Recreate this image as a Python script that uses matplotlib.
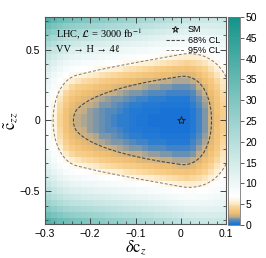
import numpy as np
import matplotlib
matplotlib.use("Agg")
import matplotlib.pyplot as plt
from matplotlib.colors import LinearSegmentedColormap
from matplotlib.lines import Line2D
from matplotlib.ticker import MultipleLocator, FuncFormatter

plt.rcParams["font.family"] = ["Liberation Sans", "DejaVu Sans"]
plt.rcParams["mathtext.fontset"] = "stix"

# ---- data / model ----
x_range = [-0.3, 0.1]          # delta c_z
y_range = [-0.73, 0.73]        # c~_zz
n_cells = [30, 34]             # heat-map cells (x, y)
# chi^2 = A(x) + s(x) * (qy2*y^2 + qy4*y^4)
a_left = [40.0, 1040.0, 0.23]  # A(x<0) = a0 x^2 + a1 * max(0, -x - a2)^2
a_right = [600.0, -1460.0]     # A(x>0) = a0 x^2 + a1 x^3
s_coef = [-3.2, -3.0]          # s(x) = 1 + k1 x + k2 x^2
q_coef = [21.0, 30.0]
cl_levels = [2.30, 5.99]
cl_labels = ["68% CL", "95% CL"]
sm_point = [0.0, 0.0]
cbar_ticks = list(range(0, 51, 5))
vmax = 50

def chi2(x, y):
    s = 1 + s_coef[0] * x + s_coef[1] * x**2
    q = q_coef[0] * y**2 + q_coef[1] * y**4
    a = np.where(x < 0,
                 a_left[0] * x**2 + a_left[1] * np.clip(-x - a_left[2], 0, None)**2,
                 a_right[0] * x**2 + a_right[1] * x**3)
    return a + s * q

# colormap
stops = [
    (0.0, (25, 115, 215)),
    (0.5, (38, 123, 210)),
    (1.2, (105, 143, 178)),
    (2.0, (200, 175, 132)),
    (2.8, (240, 190, 112)),
    (4.0, (248, 208, 142)),
    (5.3, (253, 238, 208)),
    (6.8, (255, 255, 255)),
    (50.0, (18, 148, 138)),
]
cmap = LinearSegmentedColormap.from_list(
    "cl", [(v / vmax, tuple(c / 255 for c in col)) for v, col in stops])

fig = plt.figure(figsize=(2.66, 2.58), dpi=100)
ax = fig.add_axes([0.169, 0.132, 0.681, 0.802])
cax = fig.add_axes([0.857, 0.128, 0.045, 0.806])

xe = np.linspace(x_range[0], x_range[1], n_cells[0] + 1)
ye = np.linspace(y_range[0], y_range[1], n_cells[1] + 1)
xc = 0.5 * (xe[1:] + xe[:-1])
yc = 0.5 * (ye[1:] + ye[:-1])
XC, YC = np.meshgrid(xc, yc)
pm = ax.pcolormesh(xe, ye, chi2(XC, YC), cmap=cmap, vmin=0, vmax=vmax)

xf = np.linspace(x_range[0], x_range[1], 400)
yf = np.linspace(y_range[0], y_range[1], 400)
XF, YF = np.meshgrid(xf, yf)
ZF = chi2(XF, YF)
ax.contour(XF, YF, ZF, levels=[cl_levels[0]], colors=["#4a4a4a"],
           linewidths=0.8, linestyles=[(0, (3, 1.5))])
ax.contour(XF, YF, ZF, levels=[cl_levels[1]], colors=["#7a7a7a"],
           linewidths=0.7, linestyles=[(0, (3, 2))])
ax.plot([sm_point[0]], [sm_point[1]], marker="*", ms=6, mfc="none",
        mec="#222222", mew=0.7, ls="none")

ax.set_xlim(x_range)
ax.set_ylim(y_range)
ax.xaxis.set_major_locator(MultipleLocator(0.1))
ax.xaxis.set_minor_locator(MultipleLocator(0.02))
ax.yaxis.set_major_locator(MultipleLocator(0.5))
ax.yaxis.set_minor_locator(MultipleLocator(0.1))
ax.tick_params(which="both", direction="in", top=True, right=True,
               labelsize=7.5, color="#444444")
ax.tick_params(which="major", length=4, width=0.7)
ax.tick_params(which="minor", length=2, width=0.6)
fmt = FuncFormatter(lambda v, p: ("%g" % round(v, 2)).replace("-", "\u2212"))
ax.xaxis.set_major_formatter(fmt)
ax.yaxis.set_major_formatter(fmt)
for sp in ax.spines.values():
    sp.set_color("#555555")
    sp.set_linewidth(0.8)

ax.set_xlabel(r"$\delta\mathrm{c}_z$", fontsize=12, labelpad=0)
ax.set_ylabel(r"$\tilde{\mathrm{c}}_{zz}$", fontsize=12, labelpad=0)

serif = ["Liberation Serif", "DejaVu Serif"]
ax.text(0.06, 0.95, r"LHC, $\mathcal{L}$ = 3000 fb$^{-1}$", transform=ax.transAxes,
        fontsize=7.5, family=serif, va="top")
ax.text(0.06, 0.865, "VV \u2192 H \u2192 4\u2113", transform=ax.transAxes,
        fontsize=7.5, family=serif, va="top")

handles = [
    Line2D([], [], marker="*", ms=5, mfc="none", mec="#222222", mew=0.7, ls="none"),
    Line2D([], [], color="#4a4a4a", lw=0.8, ls=(0, (3, 1.5))),
    Line2D([], [], color="#7a7a7a", lw=0.7, ls=(0, (3, 2))),
]
ax.legend(handles, ["SM"] + cl_labels, loc="upper right", fontsize=6.5,
          frameon=False, handlelength=2.0, handletextpad=0.4,
          labelspacing=0.15, borderaxespad=0.3, bbox_to_anchor=(1.0, 0.99))

cb = fig.colorbar(pm, cax=cax, ticks=cbar_ticks)
cb.ax.tick_params(labelsize=7.5, length=3, width=0.6, color="#444444", pad=1)
cb.outline.set_edgecolor("#777777")
cb.outline.set_linewidth(0.6)

fig.savefig("out.png", dpi=100)
